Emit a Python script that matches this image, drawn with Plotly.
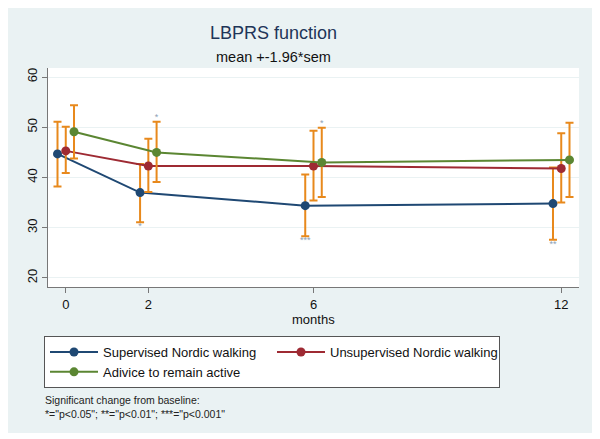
import plotly.graph_objects as go

months = [0, 2, 6, 12]
offsets = [-0.2, 0.0, 0.2]

series_names = ["Supervised Nordic walking", "Unsupervised Nordic walking", "Adivice to remain active"]
snw_mean = [44.7, 37.0, 34.4, 34.8]
snw_lo = [38.2, 31.1, 28.3, 27.6]
snw_hi = [51.1, 42.7, 40.6, 42.0]
unw_mean = [45.3, 42.3, 42.3, 41.8]
unw_lo = [40.9, 37.1, 35.4, 35.0]
unw_hi = [50.1, 47.7, 49.3, 48.8]
adv_mean = [49.1, 45.0, 43.0, 43.5]
adv_lo = [43.8, 39.1, 36.1, 36.1]
adv_hi = [54.4, 51.1, 49.9, 50.9]

# significance markers (label, placed below low CI or above high CI)
snw_sig_below = ["", "*", "***", "**"]
adv_sig_above = ["", "*", "*", ""]

colors = ["#1F4873", "#9E2A33", "#5B8632"]
err_color = "#E8891C"

W, H = 600, 439
OFF = 8  # page body margin
L, T = 40, 60
pw, ph = 531, 219
R = W - L - pw
B = H - T - ph

def fx(x):  # screen pixel x -> paper
    return (x - OFF - L) / pw

def fy(y):  # screen pixel y -> paper
    return (T + ph - (y - OFF)) / ph

fig = go.Figure()

all_means = [snw_mean, unw_mean, adv_mean]
all_lo = [snw_lo, unw_lo, adv_lo]
all_hi = [snw_hi, unw_hi, adv_hi]

for i in range(3):
    xs = [m + offsets[i] for m in months]
    m = all_means[i]
    plus = [h - v for h, v in zip(all_hi[i], m)]
    minus = [v - lo for v, lo in zip(m, all_lo[i])]
    fig.add_trace(go.Scatter(
        x=xs, y=m, mode="lines+markers", name=series_names[i],
        line=dict(color=colors[i], width=2),
        marker=dict(color=colors[i], size=9),
        error_y=dict(type="data", array=plus, arrayminus=minus, symmetric=False,
                     color=err_color, thickness=2, width=4),
    ))

fig.add_trace(go.Scatter(
    x=[m + offsets[0] for m in months], y=snw_lo, mode="text", text=snw_sig_below,
    textposition="bottom center", textfont=dict(size=9, color="#8EA2B5"),
    showlegend=False, hoverinfo="skip"))
fig.add_trace(go.Scatter(
    x=[m + offsets[2] for m in months], y=adv_hi, mode="text", text=adv_sig_above,
    textposition="top center", textfont=dict(size=9, color="#8EA2B5"),
    showlegend=False, hoverinfo="skip"))

# white frame at right and bottom of the light panel
for (x0, x1, y0, y1) in [(595, 620, 0, 460), (0, 620, 433, 460)]:
    fig.add_shape(type="rect", xref="paper", yref="paper",
                  x0=fx(x0), x1=fx(x1), y0=fy(y1), y1=fy(y0),
                  fillcolor="white", line=dict(width=0), layer="above")

fig.add_annotation(text="LBPRS function", xref="paper", yref="paper",
                   x=fx(273), y=fy(33), xanchor="center", yanchor="middle", showarrow=False,
                   font=dict(size=18, color="#1E3558", family="Liberation Sans, Arial"))
fig.add_annotation(text="mean +-1.96*sem", xref="paper", yref="paper",
                   x=fx(273), y=fy(57), xanchor="center", yanchor="middle", showarrow=False,
                   font=dict(size=14.5, color="#111111", family="Liberation Sans, Arial"))
fig.add_annotation(text="months", xref="paper", yref="paper",
                   x=fx(313), y=fy(319), xanchor="center", yanchor="middle", showarrow=False,
                   font=dict(size=13, color="#111111", family="Liberation Sans, Arial"))
fig.add_annotation(text="Significant change from baseline:<br>*=\"p<0.05\"; **=\"p<0.01\"; ***=\"p<0.001\"",
                   xref="paper", yref="paper", x=fx(43), y=fy(392),
                   xanchor="left", yanchor="top", align="left", showarrow=False,
                   font=dict(size=10.5, color="#222222", family="Liberation Sans Narrow, Liberation Sans, Arial"))

fig.update_layout(
    width=W, height=H,
    margin=dict(l=L, r=R, t=T, b=B, autoexpand=False),
    paper_bgcolor="#EAF2F3", plot_bgcolor="white",
    font=dict(family="Liberation Sans, Arial", color="#111111"),
    showlegend=True,
    legend=dict(orientation="h", x=fx(44), y=fy(336), xanchor="left", yanchor="top",
                bgcolor="white", bordercolor="#555555", borderwidth=1,
                font=dict(size=13, color="#111111"), entrywidth=164, entrywidthmode="pixels",
                itemwidth=48, tracegroupgap=0),
    xaxis=dict(range=[-0.43, 12.43], tickvals=months, ticktext=[str(m) for m in months],
               showgrid=False, zeroline=False, showline=True, linecolor="#777777", linewidth=1,
               ticks="outside", ticklen=5, tickcolor="#777777",
               tickfont=dict(size=13, color="#111111")),
    yaxis=dict(range=[18.2, 61.8], tickvals=[20, 30, 40, 50, 60], tickangle=-90,
               showgrid=True, gridcolor="#EAF2F3", gridwidth=1, zeroline=False,
               showline=True, linecolor="#777777", linewidth=1,
               ticks="outside", ticklen=5, tickcolor="#777777",
               tickfont=dict(size=13, color="#111111")),
)

fig.write_html("out.html")
